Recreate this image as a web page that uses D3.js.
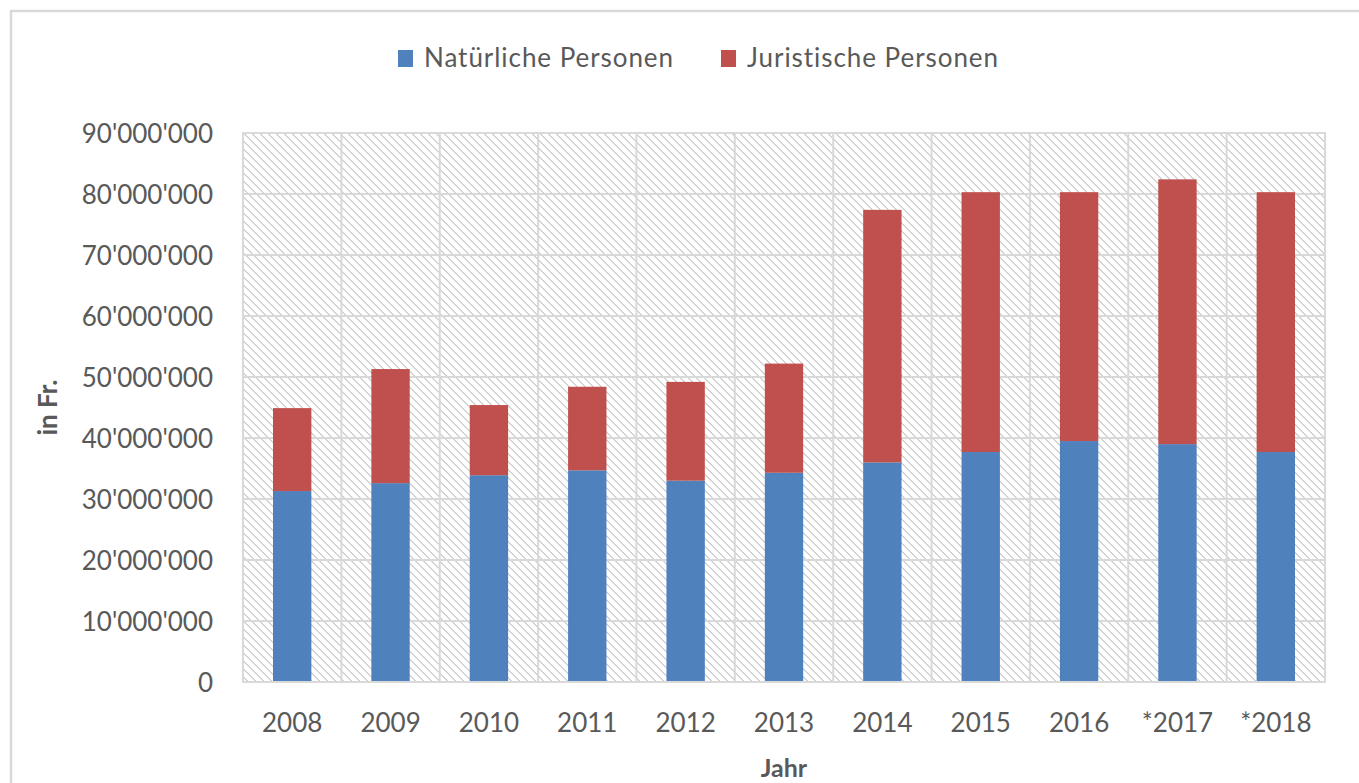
<!DOCTYPE html>
<html>
<head>
<meta charset="utf-8">
<script src="https://cdn.jsdelivr.net/npm/d3@7"></script>
<style>
  html, body { margin: 0; padding: 0; background: #fff; }
  svg { display: block; }
  text { font-family: Lato, "Open Sans", sans-serif; }
</style>
</head>
<body>
<svg id="chart" width="1359" height="783"></svg>
<script>
const years = ["2008", "2009", "2010", "2011", "2012", "2013", "2014", "2015", "2016", "*2017", "*2018"];
const natuerlichePersonen = [31300000, 32600000, 33900000, 34700000, 33000000, 34300000, 36000000, 37700000, 39500000, 39000000, 37700000];
const juristischePersonen = [13600000, 18700000, 11500000, 13700000, 16200000, 17900000, 41400000, 42600000, 40800000, 43400000, 42600000];
const seriesNames = ["Natürliche Personen", "Juristische Personen"];
const seriesColors = ["#4f81bd", "#c0504d"];
const yTicks = [0, 10000000, 20000000, 30000000, 40000000, 50000000, 60000000, 70000000, 80000000, 90000000];

const svg = d3.select("#chart");
const W = 1359, H = 783;
const margin = { left: 243, right: 1325, top: 133, bottom: 682 };

// outer chart border
svg.append("rect")
  .attr("x", 11).attr("y", 11).attr("width", W + 20).attr("height", H + 20)
  .attr("fill", "none").attr("stroke", "#d9d9d9").attr("stroke-width", 2.5);

// hatch pattern
const defs = svg.append("defs");
const pat = defs.append("pattern")
  .attr("id", "hatch").attr("patternUnits", "userSpaceOnUse")
  .attr("width", 8).attr("height", 8)
  .attr("x", margin.left).attr("y", margin.top);
pat.append("rect").attr("width", 8).attr("height", 8).attr("fill", "#fff");
d3.range(8).forEach(r => {
  pat.append("rect").attr("x", r).attr("y", r).attr("width", 2).attr("height", 1)
    .attr("fill", "#d4d4d4").attr("shape-rendering", "crispEdges");
  if (r === 7) {
    pat.append("rect").attr("x", 0).attr("y", r).attr("width", 1).attr("height", 1)
      .attr("fill", "#d4d4d4").attr("shape-rendering", "crispEdges");
  }
});

const x = d3.scaleBand().domain(years)
  .range([margin.left, margin.right])
  .paddingInner(0.61).paddingOuter(0.305);
const y = d3.scaleLinear().domain([0, 90000000]).range([margin.bottom, margin.top]);

// plot background
svg.append("rect")
  .attr("x", margin.left).attr("y", margin.top)
  .attr("width", margin.right - margin.left).attr("height", margin.bottom - margin.top)
  .attr("fill", "url(#hatch)");

// gridlines
const step = x.step();
const vLines = d3.range(years.length + 1).map(i => margin.left + i * step);
svg.append("g").selectAll("line.v").data(vLines).join("line")
  .attr("x1", d => d).attr("x2", d => d)
  .attr("y1", margin.top).attr("y2", margin.bottom)
  .attr("stroke", "#d9d9d9").attr("stroke-width", 2);
svg.append("g").selectAll("line.h").data(yTicks).join("line")
  .attr("x1", margin.left).attr("x2", margin.right)
  .attr("y1", d => y(d)).attr("y2", d => y(d))
  .attr("stroke", "#d9d9d9").attr("stroke-width", 2);

// stacked bars
const rows = years.map((yr, i) => ({ year: yr, n: natuerlichePersonen[i], j: juristischePersonen[i] }));
const stack = d3.stack().keys(["n", "j"])(rows);
svg.append("g").selectAll("g").data(stack).join("g")
  .attr("fill", (d, i) => seriesColors[i])
  .selectAll("rect").data(d => d).join("rect")
  .attr("x", d => x(d.data.year))
  .attr("width", x.bandwidth())
  .attr("y", d => y(d[1]))
  .attr("height", d => y(d[0]) - y(d[1]));

// y axis
const locale = d3.formatLocale({ decimal: ".", thousands: "'", grouping: [3], currency: ["", ""] });
const fmt = locale.format(",");
const yAxis = d3.axisLeft(y).tickValues(yTicks).tickFormat(fmt).tickSize(0).tickPadding(30);
const gy = svg.append("g").attr("transform", `translate(${margin.left},0)`).call(yAxis);
gy.select(".domain").remove();
gy.selectAll("text").attr("font-size", 26).attr("fill", "#595959")
  .attr("font-family", "Lato, 'Open Sans', sans-serif").attr("dy", "0.35em");

// x axis
const xAxis = d3.axisBottom(x).tickSize(0).tickPadding(32);
const gx = svg.append("g").attr("transform", `translate(0,${margin.bottom})`).call(xAxis);
gx.select(".domain").remove();
gx.selectAll("text").attr("font-size", 26).attr("fill", "#595959")
  .attr("font-family", "Lato, 'Open Sans', sans-serif").attr("dy", "0.71em");

// plot border
svg.append("rect")
  .attr("x", margin.left).attr("y", margin.top)
  .attr("width", margin.right - margin.left).attr("height", margin.bottom - margin.top)
  .attr("fill", "none").attr("stroke", "#d9d9d9").attr("stroke-width", 2);

// axis titles
svg.append("text")
  .attr("transform", `translate(57,${(margin.top + margin.bottom) / 2}) rotate(-90)`)
  .attr("text-anchor", "middle").attr("font-size", 26).attr("font-weight", "bold")
  .attr("fill", "#595959").text("in Fr.");
svg.append("text")
  .attr("x", (margin.left + margin.right) / 2).attr("y", 777)
  .attr("text-anchor", "middle").attr("font-size", 25).attr("font-weight", "bold")
  .attr("fill", "#595959").text("Jahr");

// legend
const legendItems = [
  { name: seriesNames[0], color: seriesColors[0], x: 398 },
  { name: seriesNames[1], color: seriesColors[1], x: 721 }
];
const lg = svg.append("g").selectAll("g").data(legendItems).join("g")
  .attr("transform", d => `translate(${d.x},0)`);
lg.append("rect").attr("x", 0).attr("y", 50).attr("width", 15).attr("height", 17)
  .attr("fill", d => d.color);
lg.append("text").attr("x", 26).attr("y", 58).attr("dy", "0.35em")
  .attr("font-size", 26).attr("fill", "#595959").attr("letter-spacing", 0.95)
  .text(d => d.name);
</script>
</body>
</html>
